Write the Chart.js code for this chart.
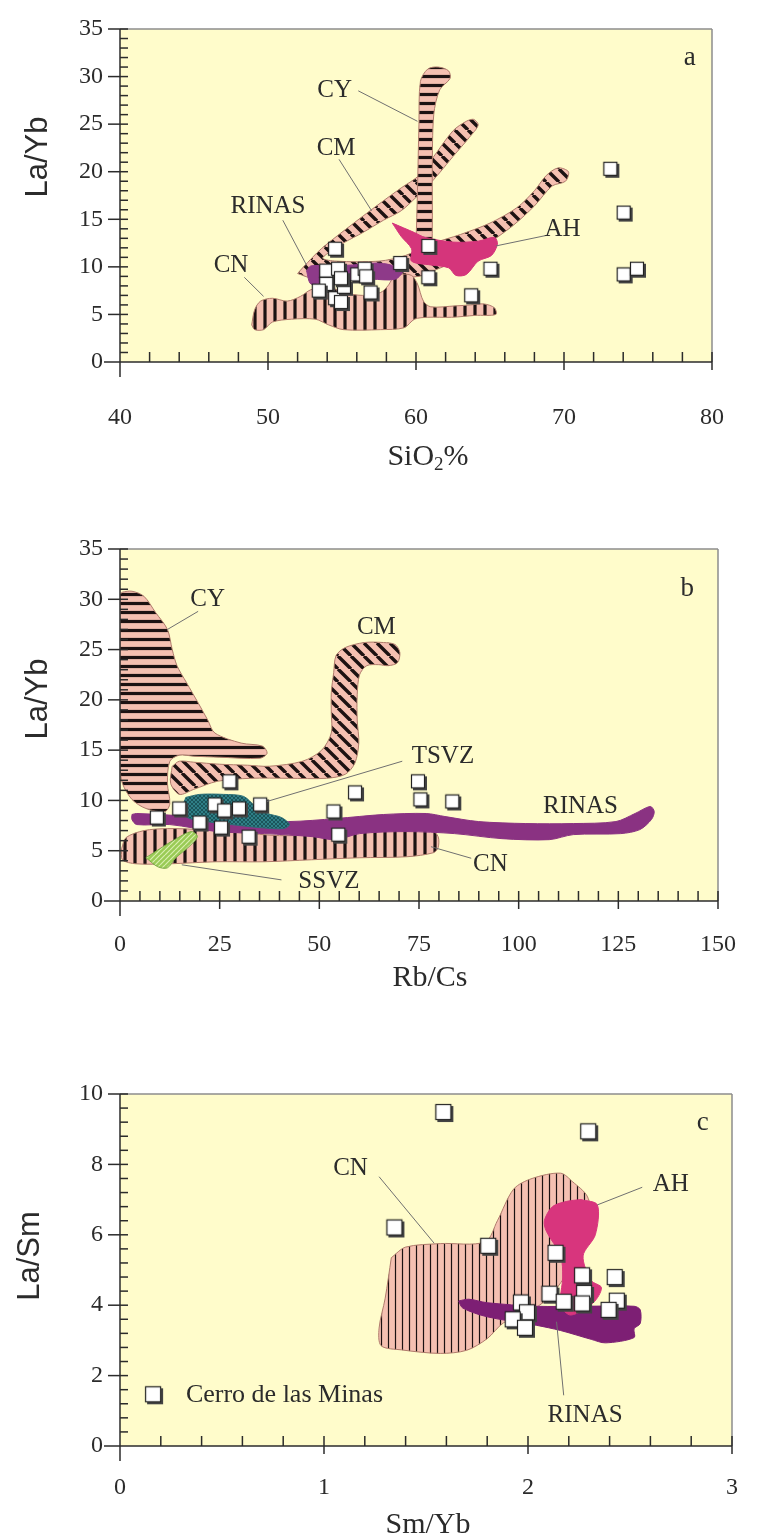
<!DOCTYPE html>
<html>
<head>
<meta charset="utf-8">
<script src="https://cdn.jsdelivr.net/npm/chart.js@4.4.1/dist/chart.umd.min.js"></script>
<style>
  body { margin: 0; background: #fff; width: 768px; height: 1538px; overflow: hidden; position: relative; }
  canvas { position: absolute; left: 0; }
</style>
</head>
<body>
<canvas id="chartA" width="768" height="500" style="top:0;width:768px;height:500px"></canvas>
<canvas id="chartB" width="768" height="500" style="top:500px;width:768px;height:500px"></canvas>
<canvas id="chartC" width="768" height="538" style="top:1000px;width:768px;height:538px"></canvas>
<script>
// ---- panel a : SiO2 % vs La/Yb ----
const aSiO2 = [73.2, 74.1, 74.1, 75.0, 65.1, 63.8, 60.9, 60.9, 59.0, 54.6, 54.0, 54.8, 54.0, 53.5, 54.6, 55.0, 55.2, 55.0, 56.1, 56.6, 56.7, 57.0];
const aLaYb = [20.2, 15.6, 9.1, 9.7, 9.7, 6.9, 12.1, 8.8, 10.3, 11.8, 9.5, 9.7, 8.1, 7.4, 6.6, 6.2, 7.8, 8.7, 9.1, 9.7, 8.9, 7.2];
const aXTicks = [40, 50, 60, 70, 80];
const aYTicks = [0, 5, 10, 15, 20, 25, 30, 35];

const aCY = [[60.0, 12.4], [60.1, 18], [60.2, 25], [60.3, 29.5], [60.8, 30.8], [61.5, 31.0], [62.2, 30.6], [62.3, 29.8], [61.6, 28.6], [61.2, 26.0], [61.1, 20], [61.1, 14], [61.0, 12.0], [60.5, 11.6]];
const aCM = [[52.0, 9.3], [52.4, 10.0], [53.6, 11.9], [55.8, 14.6], [57.5, 16.6], [59.0, 18.3], [60.2, 19.6], [61.2, 21.6], [62.5, 24.3], [63.4, 25.3], [63.9, 25.5], [64.2, 24.9], [63.6, 23.6], [62.5, 21.6], [61.6, 19.9], [60.8, 18.5], [60.0, 17.3], [59.0, 15.9], [57.8, 14.9], [56.4, 13.6], [55.2, 12.6], [54.2, 11.6], [53.7, 10.9], [54.6, 10.6], [57.5, 10.6], [59.3, 11.2], [61.0, 12.4], [63.0, 13.4], [65.0, 14.6], [66.8, 16.2], [68.0, 18.0], [68.8, 19.6], [69.6, 20.4], [70.3, 20.0], [70.1, 19.0], [69.2, 18.5], [68.0, 16.4], [66.6, 14.4], [65.0, 12.6], [63.0, 10.8], [61.5, 9.8], [60.2, 9.0], [58.0, 8.9], [55.0, 8.8], [53.0, 8.8]];
const aCN = [[48.9, 3.9], [49.1, 5.5], [49.5, 6.4], [50.3, 6.7], [51.3, 6.4], [52.2, 6.9], [52.9, 7.6], [54.1, 7.9], [55.1, 7.3], [56.4, 7.0], [57.6, 7.3], [58.1, 8.0], [58.4, 8.7], [58.9, 9.2], [59.7, 9.1], [60.1, 8.2], [60.5, 6.4], [61.0, 5.8], [62.7, 5.9], [63.7, 6.0], [64.6, 6.1], [65.3, 5.7], [65.4, 5.0], [64.0, 4.9], [62.4, 4.7], [60.8, 4.7], [59.9, 4.5], [59.2, 3.6], [57.6, 3.4], [55.1, 3.4], [54.1, 3.9], [53.2, 4.5], [51.6, 4.5], [50.3, 4.2], [49.7, 3.4], [49.1, 3.4]];
const aRINAS = [[52.6, 9.6], [52.9, 8.2], [53.8, 8.4], [55.1, 8.6], [57.0, 8.7], [58.6, 8.7], [59.1, 9.6], [58.3, 10.2], [57.3, 10.4], [55.7, 10.2], [54.1, 10.1], [52.9, 10.1]];
const aAH = [[58.4, 14.6], [59.9, 13.6], [60.6, 13.1], [62.5, 12.6], [64.2, 12.7], [65.3, 13.1], [65.5, 12.4], [65.1, 11.2], [64.2, 10.6], [63.4, 9.2], [62.7, 9.1], [62.2, 9.9], [61.0, 10.2], [59.7, 10.6], [59.7, 11.9], [59.0, 13.2]];

// ---- panel b : Rb/Cs vs La/Yb ----
const bRbCs = [9.5, 15.1, 20.2, 24.0, 26.4, 30.1, 25.6, 27.7, 35.4, 32.5, 53.8, 59.2, 55.0, 75.0, 75.6, 83.6];
const bLaYb = [8.2, 9.1, 7.7, 9.5, 8.9, 9.1, 7.2, 11.8, 9.5, 6.3, 8.8, 10.7, 6.5, 11.8, 10.0, 9.8];
const bXTicks = [0, 25, 50, 75, 100, 125, 150];
const bYTicks = [0, 5, 10, 15, 20, 25, 30, 35];

const bCY = [[0, 30.5], [0.6, 30.7], [3.0, 30.8], [6.0, 30.3], [8.9, 28.7], [11.9, 27.0], [13.1, 25.0], [14.3, 23.4], [16.7, 21.7], [19.6, 19.7], [22.0, 18.0], [23.8, 16.7], [30.4, 15.7], [35.7, 15.4], [36.9, 14.7], [35.1, 14.2], [25, 14.3], [18.5, 14.4], [14.9, 14.5], [12.5, 13.9], [11.9, 11.7], [12.5, 9.7], [11.3, 8.9], [6.5, 9.2], [3.0, 10.1], [0.6, 11.7], [0, 13.4]];
const bCM = [[13.1, 13.4], [14.9, 13.9], [18.5, 13.8], [25, 13.6], [32, 13.5], [37.5, 13.4], [45.8, 13.9], [50.6, 15.0], [53.0, 16.7], [53.0, 18.7], [53.0, 20.7], [53.6, 22.7], [54.2, 24.4], [56.5, 25.2], [61.3, 25.7], [66.1, 25.7], [69.0, 25.5], [70.2, 24.7], [69.6, 23.7], [67.3, 23.4], [64.9, 23.5], [61.9, 23.4], [60.1, 22.5], [59.5, 20.5], [59.5, 18.0], [59.9, 15.7], [58.9, 13.7], [56.5, 12.6], [51.8, 12.2], [42.3, 12.2], [32.7, 12.2], [24.4, 11.9], [18.5, 11.1], [14.9, 10.6], [12.7, 11.7]];
const bCN = [[0.4, 5.2], [1.5, 6.3], [6, 7.0], [12, 7.2], [20, 7.1], [30, 6.8], [40, 6.5], [50, 6.6], [60, 6.9], [70, 7.1], [78, 7.1], [79.8, 6.4], [79.8, 5.3], [78.6, 4.8], [72, 4.4], [60, 4.3], [48, 4.1], [36, 3.9], [24, 3.9], [12.5, 3.7], [4, 3.7], [0.6, 4.1]];
const bRINAS = [[3.0, 8.6], [4.2, 8.7], [18.5, 8.4], [30.4, 8.1], [42.3, 7.9], [54.2, 8.2], [66.1, 8.6], [76.8, 8.7], [81.5, 8.4], [89.9, 7.9], [101.8, 7.7], [113.7, 7.7], [124.4, 7.9], [129.2, 8.7], [133.0, 9.4], [134.0, 8.9], [133.3, 8.1], [130.4, 7.1], [125.6, 6.7], [113.7, 6.6], [107.7, 6.1], [95.8, 6.2], [83.9, 6.7], [72.0, 6.9], [60.1, 6.7], [54.2, 6.1], [48.2, 6.4], [36.3, 6.7], [24.4, 6.9], [12.5, 7.6], [4.2, 7.6], [3.0, 8.1]];
const bTSVZ = [[16.5, 10.3], [20, 10.6], [26, 10.6], [31, 10.4], [34, 9.4], [37, 8.7], [40.5, 8.3], [42.5, 7.6], [41, 7.2], [35, 7.3], [28, 7.6], [20, 8.0], [16.5, 8.4], [15.8, 9.4]];
const bSSVZ = [[6.5, 4.3], [10, 5.2], [13.7, 6.1], [17.9, 6.9], [19.4, 6.4], [17.3, 5.4], [14, 4.3], [11.9, 3.3], [9.5, 3.4]];

// ---- panel c : Sm/Yb vs La/Sm ----
const cSmYb = [1.59, 2.30, 1.35, 1.81, 2.14, 2.27, 2.43, 2.28, 2.11, 2.18, 2.27, 2.44, 2.40, 1.97, 2.00, 1.93, 1.99];
const cLaSm = [9.46, 8.91, 6.18, 5.66, 5.46, 4.82, 4.77, 4.32, 4.30, 4.07, 4.02, 4.10, 3.84, 4.05, 3.77, 3.57, 3.33];
const cXTicks = [0, 1, 2, 3];
const cYTicks = [0, 2, 4, 6, 8, 10];

const cCN = [[1.33, 5.35], [1.40, 5.65], [1.57, 5.75], [1.79, 5.80], [1.85, 6.4], [1.93, 7.3], [2.02, 7.6], [2.16, 7.75], [2.22, 7.5], [2.29, 7.1], [2.31, 6.5], [2.26, 5.5], [2.18, 4.8], [2.10, 4.2], [2.00, 3.8], [1.88, 3.5], [1.80, 3.05], [1.70, 2.72], [1.57, 2.63], [1.38, 2.73], [1.28, 2.85], [1.27, 3.35], [1.30, 4.2]];
const cAH = [[2.26, 7.0], [2.34, 6.85], [2.33, 6.0], [2.27, 5.4], [2.31, 4.7], [2.36, 4.5], [2.32, 4.07], [2.21, 3.72], [2.16, 4.0], [2.17, 4.8], [2.16, 5.4], [2.09, 6.1], [2.08, 6.4], [2.12, 6.8], [2.19, 6.95]];
const cRINAS = [[1.66, 4.12], [1.71, 4.17], [1.80, 4.07], [2.04, 3.97], [2.28, 3.97], [2.52, 3.97], [2.55, 3.87], [2.55, 3.48], [2.52, 3.33], [2.52, 3.08], [2.38, 2.93], [2.31, 3.03], [2.16, 3.28], [2.04, 3.43], [1.80, 3.67], [1.68, 3.92]];

const INK = '#2b2b2b';
const PINK = '#f5c0b1';
const EDGE = '#b07b6c';
const SERIF = '"Liberation Serif", "Times New Roman", serif';

// fill patterns
function tile(size, draw) {
  const c = document.createElement('canvas');
  c.width = c.height = size;
  draw(c.getContext('2d'), size);
  return document.createElement('canvas').getContext('2d').createPattern(c, 'repeat');
}
function hatch(dir, gap, w, bg, fg) {
  return tile(gap, (g, s) => {
    g.fillStyle = bg || PINK;
    g.fillRect(0, 0, s, s);
    g.strokeStyle = fg || '#1c1212';
    g.lineWidth = w;
    g.beginPath();
    if (dir === 'h') { g.moveTo(0, s / 2); g.lineTo(s, s / 2); }
    if (dir === 'v') { g.moveTo(s / 2, 0); g.lineTo(s / 2, s); }
    if (dir === 'd') [-1, 0, 1].forEach(k => { g.moveTo(k * s, 0); g.lineTo(k * s + s, s); });
    if (dir === 'u') [-1, 0, 1].forEach(k => { g.moveTo(k * s, s); g.lineTo(k * s + s, 0); });
    if (dir === 'x') [-1, 0, 1].forEach(k => {
      g.moveTo(k * s, 0); g.lineTo(k * s + s, s);
      g.moveTo(k * s, s); g.lineTo(k * s + s, 0);
    });
    g.stroke();
  });
}
const horiz = hatch('h', 9, 3.2);
const vert = hatch('v', 10, 3.2);
const diag = hatch('d', 13, 3.4);
const vertThin = hatch('v', 7, 1.2);
const tsvzFill = hatch('x', 4, 0.8, '#2f7f87', '#174a50');
const ssvzFill = hatch('u', 5, 1.2, '#9acb55', '#d9efb0');

// sample marker: white square with a dark drop shadow
function marker(side) {
  const c = document.createElement('canvas');
  c.width = c.height = side + 4;
  const g = c.getContext('2d');
  g.fillStyle = '#444';
  g.fillRect(3, 3, side, side);
  g.fillStyle = '#fff';
  g.fillRect(1, 1, side, side);
  g.strokeStyle = '#222';
  g.lineWidth = 1.2;
  g.strokeRect(1.5, 1.5, side - 1, side - 1);
  return c;
}
const markA = marker(14);
const markC = marker(16);

function pts(xs, ys) { return xs.map((x, i) => ({ x, y: ys[i] })); }
function region(poly, fill, border, order) {
  const data = poly.map(([x, y]) => ({ x, y }));
  data.push({ x: poly[0][0], y: poly[0][1] });
  return {
    type: 'line', data, order,
    backgroundColor: fill, borderColor: border, borderWidth: 1,
    fill: 'shape', pointRadius: 0, tension: 0.3
  };
}
function samples(xs, ys, img) {
  return { type: 'scatter', data: pts(xs, ys), pointStyle: img, pointRadius: 7, order: 0 };
}

function frame(cfg) {
  return {
    id: 'frame',
    beforeDraw(chart) {
      const { ctx, chartArea: a } = chart;
      ctx.save();
      ctx.fillStyle = '#fffccb';
      ctx.fillRect(a.left, a.top, a.right - a.left, a.bottom - a.top);
      ctx.restore();
    },
    afterDraw(chart) {
      const { ctx, chartArea: a, scales: { x, y } } = chart;
      const px = v => x.getPixelForValue(v), py = v => y.getPixelForValue(v);
      const seg = (x1, y1, x2, y2) => { ctx.beginPath(); ctx.moveTo(x1, y1); ctx.lineTo(x2, y2); ctx.stroke(); };
      ctx.save();

      // leader lines and region names
      ctx.strokeStyle = '#707070';
      ctx.lineWidth = 1;
      cfg.leaders.forEach(([x1, y1, x2, y2]) => seg(px(x1), py(y1), px(x2), py(y2)));
      ctx.fillStyle = INK;
      ctx.textAlign = 'center';
      ctx.textBaseline = 'middle';
      ctx.font = '25px ' + SERIF;
      cfg.labels.forEach(([t, vx, vy]) => ctx.fillText(t, px(vx), py(vy)));
      ctx.font = '27px ' + SERIF;
      ctx.fillText(cfg.letter[0], px(cfg.letter[1]), py(cfg.letter[2]));

      if (cfg.legend) {
        const [t, mx, my, tx] = cfg.legend;
        ctx.drawImage(cfg.marker, px(mx) - cfg.marker.width / 2, py(my) - cfg.marker.height / 2);
        ctx.textAlign = 'left';
        ctx.font = '26px ' + SERIF;
        ctx.fillText(t, px(tx), py(my));
      }

      // box and axes
      ctx.lineWidth = 1.5;
      ctx.strokeStyle = '#8c8c8c';
      seg(a.left, a.top, a.right, a.top);
      seg(a.right, a.top, a.right, a.bottom);
      ctx.strokeStyle = INK;
      seg(a.left, a.top, a.left, a.bottom + 15);
      seg(a.left - 16, a.bottom, a.right, a.bottom);

      const isMajor = (v, m) => Math.abs(v / m - Math.round(v / m)) < 1e-6;
      const nx = Math.round((x.max - x.min) / cfg.xMinor);
      for (let i = 1; i <= nx; i++) {
        const v = x.min + i * cfg.xMinor, p = px(v);
        seg(p, a.bottom - 10, p, a.bottom + (isMajor(v, cfg.xMajor) ? 8 : 0));
      }
      const ny = Math.round((y.max - y.min) / cfg.yMinor);
      for (let i = 1; i <= ny; i++) {
        const v = y.min + i * cfg.yMinor, p = py(v);
        seg(isMajor(v, cfg.yMajor) ? a.left - 12 : a.left, p, a.left + 8, p);
      }

      // axis titles
      ctx.fillStyle = INK;
      ctx.textBaseline = 'middle';
      const parts = cfg.xTitle.parts.map(([t, sub]) => ({ t, sub, font: (sub ? '19px ' : '30px ') + SERIF }));
      let total = 0;
      parts.forEach(p => { ctx.font = p.font; p.w = ctx.measureText(p.t).width; total += p.w; });
      let cx = cfg.xTitle.x - total / 2;
      ctx.textAlign = 'left';
      parts.forEach(p => { ctx.font = p.font; ctx.fillText(p.t, cx, cfg.xTitle.y + (p.sub ? 8 : 0)); cx += p.w; });

      ctx.translate(cfg.yTitle.x, cfg.yTitle.y);
      ctx.rotate(-Math.PI / 2);
      ctx.textAlign = 'center';
      ctx.font = '31px "Liberation Sans", Arial, sans-serif';
      ctx.fillText(cfg.yTitle.text, 0, 0);
      ctx.restore();
    }
  };
}

function makeChart(id, cfg) {
  const tickFont = { family: SERIF, size: 24, lineHeight: 1 };
  return new Chart(document.getElementById(id), {
    type: 'scatter',
    data: { datasets: cfg.datasets },
    options: {
      responsive: false,
      animation: false,
      devicePixelRatio: 1,
      layout: { padding: { top: cfg.top, right: 32, left: 0, bottom: 0 } },
      elements: { line: { capBezierPoints: false } },
      plugins: { legend: { display: false }, tooltip: { enabled: false } },
      scales: {
        x: {
          type: 'linear', min: cfg.xTicks[0], max: cfg.xTicks[cfg.xTicks.length - 1],
          afterBuildTicks: s => { s.ticks = cfg.xTicks.map(v => ({ value: v })); },
          afterFit: s => { s.height = cfg.xHeight; },
          grid: { display: false, drawTicks: false },
          border: { display: false },
          ticks: { padding: cfg.xPad, font: tickFont, color: INK, maxRotation: 0, autoSkip: false }
        },
        y: {
          type: 'linear', min: cfg.yTicks[0], max: cfg.yTicks[cfg.yTicks.length - 1],
          afterBuildTicks: s => { s.ticks = cfg.yTicks.map(v => ({ value: v })); },
          afterFit: s => { s.width = 120; },
          grid: { display: false, drawTicks: false },
          border: { display: false },
          ticks: { padding: 17, font: tickFont, color: INK, autoSkip: false }
        }
      }
    },
    plugins: [frame(cfg)]
  });
}

makeChart('chartA', {
  top: 14, xHeight: 138, xPad: 44,
  xTicks: aXTicks, yTicks: aYTicks, xMajor: 10, xMinor: 2, yMajor: 5, yMinor: 1,
  datasets: [
    samples(aSiO2, aLaYb, markA),
    region(aAH, '#d5357b', '#d5357b', 1),
    region(aRINAS, '#8e3a89', '#8e3a89', 2),
    region(aCY, horiz, EDGE, 3),
    region(aCN, vert, EDGE, 4),
    region(aCM, diag, EDGE, 5)
  ],
  labels: [['CY', 54.5, 28.5], ['CM', 54.6, 22.4], ['RINAS', 50.0, 16.3], ['CN', 47.5, 10.2], ['AH', 69.9, 13.9]],
  leaders: [[56.1, 28.5, 60.1, 25.3], [54.8, 21.3, 57.0, 15.9], [51.0, 14.9, 52.6, 10.2], [48.4, 8.9, 49.7, 6.9], [68.8, 13.3, 65.4, 12.2]],
  letter: ['a', 78.5, 32],
  xTitle: { parts: [['SiO'], ['2', true], ['%']], x: 428, y: 457 },
  yTitle: { text: 'La/Yb', x: 38, y: 157 }
});

makeChart('chartB', {
  top: 49, xHeight: 99, xPad: 32,
  xTicks: bXTicks, yTicks: bYTicks, xMajor: 25, xMinor: 5, yMajor: 5, yMinor: 1,
  datasets: [
    samples(bRbCs, bLaYb, markA),
    region(bTSVZ, tsvzFill, '#2a6f76', 1),
    region(bSSVZ, ssvzFill, '#7aa845', 1),
    region(bRINAS, '#8a3282', '#8a3282', 2),
    region(bCY, horiz, EDGE, 3),
    region(bCN, vert, EDGE, 4),
    region(bCM, diag, EDGE, 5)
  ],
  labels: [['CY', 22.0, 30.0], ['CM', 64.3, 27.2], ['TSVZ', 81.0, 14.4], ['RINAS', 115.5, 9.4], ['CN', 92.9, 3.6], ['SSVZ', 52.4, 1.9]],
  leaders: [[19.6, 28.8, 11.9, 27.0], [70.8, 13.9, 36.9, 9.9], [88.1, 4.25, 78.0, 5.4], [40.5, 2.1, 15.5, 3.6]],
  letter: ['b', 142.3, 31.0],
  xTitle: { parts: [['Rb/Cs']], x: 430, y: 478 },
  yTitle: { text: 'La/Yb', x: 38, y: 199 }
});

makeChart('chartC', {
  top: 94, xHeight: 92, xPad: 30,
  xTicks: cXTicks, yTicks: cYTicks, xMajor: 1, xMinor: 0.2, yMajor: 2, yMinor: 0.4,
  datasets: [
    samples(cSmYb, cLaSm, markC),
    region(cAH, '#d8357d', '#d8357d', 1),
    region(cRINAS, '#7d1f74', '#7d1f74', 2),
    region(cCN, vertThin, EDGE, 3)
  ],
  labels: [['CN', 1.13, 7.89], ['AH', 2.70, 7.42], ['RINAS', 2.28, 0.86]],
  leaders: [[1.27, 7.65, 1.54, 5.76], [2.56, 7.35, 2.34, 6.85], [2.175, 1.44, 2.14, 3.53]],
  letter: ['c', 2.857, 9.19],
  legend: ['Cerro de las Minas', 0.167, 1.44, 0.323],
  marker: markC,
  xTitle: { parts: [['Sm/Yb']], x: 428, y: 525 },
  yTitle: { text: 'La/Sm', x: 30, y: 256 }
});
</script>
</body>
</html>
